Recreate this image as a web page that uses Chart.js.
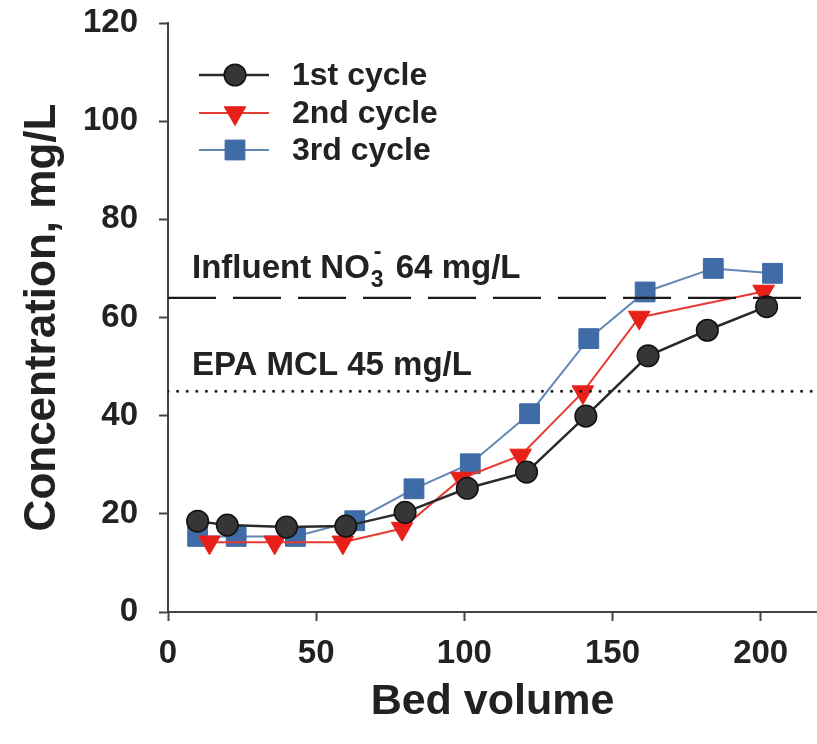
<!DOCTYPE html>
<html>
<head>
<meta charset="utf-8">
<script src="https://cdn.jsdelivr.net/npm/chart.js@4.4.1/dist/chart.umd.min.js"></script>
<style>
  html, body { margin: 0; padding: 0; background: #ffffff; }
  #wrap { width: 817px; height: 744px; }
</style>
</head>
<body>
<div id="wrap"><canvas id="c" width="817" height="744"></canvas></div>
<script>
// ---- data ----
const cycle1X = [10, 20, 40, 60, 80, 101, 121, 141, 162, 182, 202];
const cycle1Y = [18.5, 17.7, 17.3, 17.5, 20.3, 25.2, 28.5, 39.9, 52.2, 57.4, 62.2];
const cycle2X = [14, 36, 59, 79, 99, 119, 140, 159, 201];
const cycle2Y = [14.2, 14.2, 14.2, 17.0, 27.2, 31.9, 44.8, 60.0, 65.3];
const cycle3X = [10, 23, 43, 63, 83, 102, 122, 142, 161, 184, 204];
const cycle3Y = [15.4, 15.4, 15.4, 18.6, 25.1, 30.2, 40.4, 55.7, 65.2, 70.0, 69.0];
const seriesNames = ['1st cycle', '2nd cycle', '3rd cycle'];
const refLineX = [0, 219];
const influentLevel = 64;
const mclLevel = 45;
const xTicks = [0, 50, 100, 150, 200];
const yTicks = [0, 20, 40, 60, 80, 100, 120];
const xTitle = 'Bed volume';
const yTitle = 'Concentration, mg/L';

const FONT = '"Liberation Sans", Arial, Helvetica, sans-serif';
const pts = (xs, ys) => xs.map((x, i) => ({x: x, y: ys[i]}));

const styles = [
  {line: '#2a2a2a', fill: '#363636', border: '#111111', style: 'circle', radius: 10.8, rot: 0, bw: 1.5, lw: 2.5},
  {line: '#e83a34', fill: '#e8201a', border: '#e8201a', style: 'triangle', radius: 12.5, rot: 180, bw: 1, lw: 2},
  {line: '#6487b6', fill: '#3f6ba6', border: '#3f6ba6', style: 'rect', radius: 14, rot: 0, bw: 1, lw: 2}
];

const seriesData = [pts(cycle1X, cycle1Y), pts(cycle2X, cycle2Y), pts(cycle3X, cycle3Y)];

const datasets = seriesData.map((d, i) => ({
  label: seriesNames[i],
  data: d,
  showLine: true,
  borderColor: styles[i].line,
  borderWidth: styles[i].lw,
  backgroundColor: styles[i].fill,
  pointBackgroundColor: styles[i].fill,
  pointBorderColor: styles[i].border,
  pointBorderWidth: styles[i].bw,
  pointStyle: styles[i].style,
  pointRadius: styles[i].radius,
  pointRotation: styles[i].rot,
  pointHoverRadius: styles[i].radius,
  tension: 0,
  clip: false,
  order: 0
}));

datasets.push({
  label: 'influent',
  data: refLineX.map(x => ({x: x, y: influentLevel})),
  showLine: true,
  borderColor: '#1a1a1a',
  borderWidth: 2.2,
  borderDash: [48, 17],
  pointRadius: 0,
  order: -1
});
datasets.push({
  label: 'mcl',
  data: refLineX.map(x => ({x: x, y: mclLevel})),
  showLine: true,
  borderColor: '#1a1a1a',
  borderWidth: 3,
  borderCapStyle: 'round',
  borderDash: [0, 9.6],
  pointRadius: 0,
  order: -1
});

function drawMarker(ctx, s, x, y) {
  ctx.save();
  ctx.fillStyle = s.fill;
  ctx.strokeStyle = s.border;
  ctx.lineWidth = s.bw;
  ctx.beginPath();
  if (s.style === 'circle') {
    ctx.arc(x, y, s.radius, 0, Math.PI * 2);
  } else if (s.style === 'triangle') {
    const r = s.radius;
    for (let k = 0; k < 3; k++) {
      const a = Math.PI / 2 + k * 2 * Math.PI / 3;
      const px = x + r * Math.cos(a), py = y + r * Math.sin(a);
      if (k === 0) ctx.moveTo(px, py); else ctx.lineTo(px, py);
    }
    ctx.closePath();
  } else {
    const h = s.radius * Math.SQRT1_2;
    ctx.rect(x - h, y - h, 2 * h, 2 * h);
  }
  ctx.fill();
  ctx.stroke();
  ctx.restore();
}

const overlay = {
  id: 'overlay',
  afterDraw(chart) {
    const ctx = chart.ctx;
    const ys = chart.scales.y;
    const left = chart.chartArea.left;
    ctx.save();
    // legend
    ctx.font = 'bold 32px ' + FONT;
    ctx.textBaseline = 'middle';
    ctx.textAlign = 'left';
    const rows = [75, 113, 150];
    seriesNames.forEach((name, i) => {
      const y = rows[i];
      const s = styles[i];
      ctx.strokeStyle = s.line;
      ctx.lineWidth = s.lw;
      ctx.beginPath();
      ctx.moveTo(left + 31, y);
      ctx.lineTo(left + 101, y);
      ctx.stroke();
      drawMarker(ctx, s, left + 67, y);
      ctx.fillStyle = '#222222';
      ctx.fillText(name, left + 124, y + 1);
    });
    // reference line labels
    ctx.fillStyle = '#222222';
    ctx.textBaseline = 'alphabetic';
    const yInf = ys.getPixelForValue(influentLevel) - 20;
    let x = left + 24;
    ctx.font = 'bold 33px ' + FONT;
    const p1 = 'Influent NO';
    ctx.fillText(p1, x, yInf);
    x += ctx.measureText(p1).width;
    ctx.font = 'bold 23px ' + FONT;
    ctx.fillText('3', x + 1, yInf + 9);
    const w3 = ctx.measureText('3').width;
    ctx.fillText('-', x + 4, yInf - 19);
    x += w3 + 4;
    ctx.font = 'bold 33px ' + FONT;
    ctx.fillText(' 64 mg/L', x, yInf);
    const yMcl = ys.getPixelForValue(mclLevel) - 16;
    ctx.fillText('EPA MCL 45 mg/L', left + 24, yMcl);
    ctx.restore();
  }
};

new Chart(document.getElementById('c'), {
  type: 'line',
  data: {datasets: datasets},
  plugins: [overlay],
  options: {
    responsive: false,
    animation: false,
    devicePixelRatio: 1,
    layout: {autoPadding: false, padding: {top: 23, right: 0, left: 0, bottom: 0}},
    plugins: {legend: {display: false}, tooltip: {enabled: false}},
    scales: {
      x: {
        type: 'linear',
        min: refLineX[0],
        max: refLineX[1],
        afterBuildTicks(scale) { scale.ticks = xTicks.map(v => ({value: v})); },
        afterFit(scale) { scale.height = 132; scale.paddingLeft = 0; scale.paddingRight = 0; },
        ticks: {
          color: '#222222',
          font: {family: FONT, size: 33, weight: 'bold'},
          padding: 13,
          maxRotation: 0
        },
        grid: {display: true, drawOnChartArea: false, drawTicks: true, tickLength: 9, tickColor: '#444444', tickWidth: 2},
        border: {display: true, color: '#444444', width: 2},
        title: {
          display: true,
          text: xTitle,
          color: '#222222',
          font: {family: FONT, size: 43, weight: 'bold'},
          padding: {top: 0, bottom: 16}
        }
      },
      y: {
        type: 'linear',
        min: 0,
        max: 120,
        afterBuildTicks(scale) { scale.ticks = yTicks.map(v => ({value: v})); },
        afterFit(scale) { scale.width = 168; scale.paddingTop = 0; scale.paddingBottom = 0; },
        ticks: {
          color: '#222222',
          font: {family: FONT, size: 33, weight: 'bold'},
          padding: 21
        },
        grid: {display: true, drawOnChartArea: false, drawTicks: true, tickLength: 9, tickColor: '#444444', tickWidth: 2},
        border: {display: true, color: '#444444', width: 2},
        title: {
          display: true,
          text: yTitle,
          color: '#222222',
          font: {family: FONT, size: 44, weight: 'bold'},
          padding: {top: 16, bottom: 0}
        }
      }
    }
  }
});
</script>
</body>
</html>
